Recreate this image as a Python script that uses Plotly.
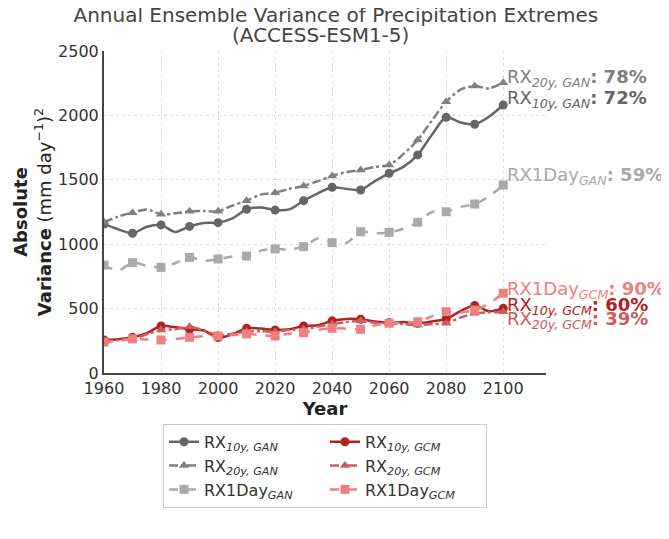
import plotly.graph_objects as go

# five-year readings, markers shown on the decades
years = [1960, 1965, 1970, 1975, 1980, 1985, 1990, 1995, 2000, 2005, 2010, 2015, 2020, 2025,
         2030, 2035, 2040, 2045, 2050, 2055, 2060, 2065, 2070, 2075, 2080, 2085, 2090, 2095, 2100]

rx10_gan = [1157, 1115, 1085, 1135, 1150, 1095, 1138, 1165, 1167, 1200, 1271, 1285, 1265, 1270,
            1338, 1395, 1442, 1430, 1421, 1490, 1550, 1600, 1693, 1850, 1985, 1945, 1931, 1990, 2081]
rx20_gan = [1170, 1215, 1245, 1270, 1232, 1240, 1255, 1258, 1255, 1300, 1338, 1385, 1400, 1430,
            1452, 1490, 1530, 1560, 1576, 1600, 1615, 1700, 1809, 1960, 2106, 2200, 2228, 2210, 2254]
rx1day_gan = [838, 795, 857, 832, 820, 852, 898, 870, 885, 905, 908, 950, 963, 960,
              981, 1045, 1012, 1010, 1097, 1085, 1092, 1120, 1170, 1250, 1252, 1290, 1312, 1370, 1460]

rx10_gcm = [256, 262, 277, 310, 365, 355, 340, 330, 275, 300, 347, 345, 334, 340,
            365, 370, 405, 420, 417, 400, 391, 395, 386, 400, 420, 480, 525, 480, 502]
rx20_gcm = [245, 255, 265, 300, 334, 340, 360, 330, 295, 305, 320, 325, 320, 335,
            340, 360, 380, 395, 406, 390, 386, 380, 373, 380, 386, 430, 463, 470, 476]
rx1day_gcm = [240, 250, 265, 260, 256, 265, 277, 285, 287, 295, 303, 295, 287, 305,
              313, 335, 347, 345, 339, 370, 386, 390, 398, 440, 476, 470, 489, 540, 619]

series = [
    ("RX<sub><i>10y, GAN</i></sub>", rx10_gan, "#666666", "solid", "circle"),
    ("RX<sub><i>10y, GCM</i></sub>", rx10_gcm, "#b22222", "solid", "circle"),
    ("RX<sub><i>20y, GAN</i></sub>", rx20_gan, "#808080", "dashdot", "triangle-up"),
    ("RX<sub><i>20y, GCM</i></sub>", rx20_gcm, "#cd5c5c", "dashdot", "triangle-up"),
    ("RX1Day<sub><i>GAN</i></sub>", rx1day_gan, "#a9a9a9", "dash", "square"),
    ("RX1Day<sub><i>GCM</i></sub>", rx1day_gcm, "#f08080", "dash", "square"),
]

# end-of-century labels
labels = [
    ("RX<sub><i>20y, GAN</i></sub><b>: 78%</b>", 2290, "#808080"),
    ("RX<sub><i>10y, GAN</i></sub><b>: 72%</b>", 2125, "#666666"),
    ("RX1Day<sub><i>GAN</i></sub><b>: 59%</b>", 1530, "#a9a9a9"),
    ("RX1Day<sub><i>GCM</i></sub><b>: 90%</b>", 648, "#f08080"),
    ("RX<sub><i>10y, GCM</i></sub><b>: 60%</b>", 522, "#b22222"),
    ("RX<sub><i>20y, GCM</i></sub><b>: 39%</b>", 408, "#cd5c5c"),
]

fig = go.Figure()
for name, vals, col, dash, sym in series:
    mcols = [col if y % 10 == 0 else "rgba(0,0,0,0)" for y in years]
    fig.add_trace(go.Scatter(
        x=years, y=vals, name=name, mode="lines+markers",
        line=dict(color=col, width=2.5, dash=dash, shape="spline", smoothing=0.8),
        marker=dict(color=mcols, symbol=sym, size=9, line=dict(width=0)),
    ))

for txt, yv, col in labels:
    fig.add_annotation(x=2100, y=yv, text=txt, showarrow=False, xanchor="left",
                       xshift=2, font=dict(size=18, color=col))

# second title line, set just under the first
fig.add_annotation(text="(ACCESS-ESM1-5)", xref="paper", yref="paper", x=0.49, y=1.05,
                   xanchor="center", yanchor="middle", showarrow=False,
                   font=dict(size=20, color="#444444"))

fig.update_layout(
    width=669, height=539,
    margin=dict(l=94, r=131, t=43, b=174),
    paper_bgcolor="white", plot_bgcolor="white",
    font=dict(family="DejaVu Sans", color="#333333"),
    title=dict(text="Annual Ensemble Variance of Precipitation Extremes",
               x=0.49, xanchor="center", yref="container", y=0.987, yanchor="middle",
               font=dict(size=20, color="#444444")),
    legend=dict(orientation="h", x=0.5, xanchor="center", y=-0.158, yanchor="top",
                entrywidth=116, bordercolor="#cccccc", borderwidth=1,
                font=dict(size=16, color="#333333"), tracegroupgap=2),
)
fig.update_xaxes(
    range=[1960, 2115], tickvals=[1960, 1980, 2000, 2020, 2040, 2060, 2080, 2100],
    showline=True, linecolor="#444444", linewidth=2,
    showgrid=True, gridcolor="#dddddd", griddash="dot", gridwidth=1,
    tickfont=dict(size=16), ticks="", zeroline=False,
    title=dict(text="<b>Year</b>", font=dict(size=18, color="#222222"), standoff=4),
)
fig.update_yaxes(
    range=[0, 2500], dtick=500,
    showline=True, linecolor="#444444", linewidth=2,
    showgrid=True, gridcolor="#dddddd", griddash="dot", gridwidth=1,
    tickfont=dict(size=16), ticks="", zeroline=False,
    title=dict(text="<b>Absolute</b><br><b>Variance</b> (mm day<sup>\u22121</sup>)<sup>2</sup>",
               font=dict(size=18, color="#222222"), standoff=2),
)

fig.write_html("out.html")
